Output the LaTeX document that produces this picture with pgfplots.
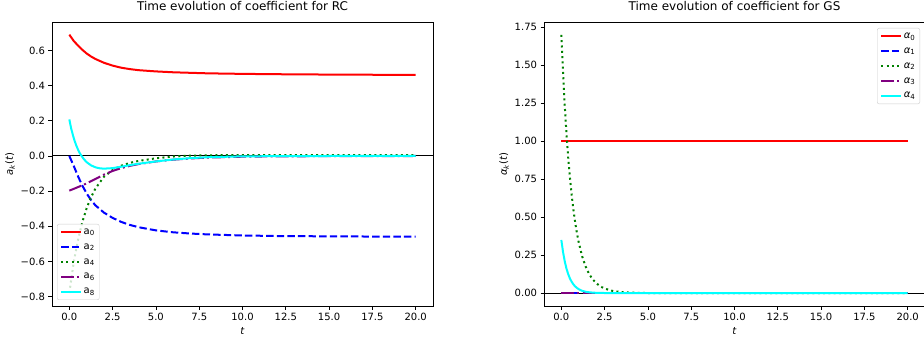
\documentclass[border=0pt]{standalone}
\usepackage{pgfplots}
\pgfplotsset{compat=1.18}
\usepackage{fontspec}
\setmainfont{DejaVu Sans}
\definecolor{mpred}{rgb}{1,0,0}
\definecolor{mpblue}{rgb}{0,0,1}
\definecolor{mpgreen}{rgb}{0,0.5,0}
\definecolor{mppurple}{rgb}{0.5,0,0.5}
\definecolor{mpcyan}{rgb}{0,1,1}
\pgfplotsset{
  myax/.style={
    scale only axis, width=381bp, height=284bp, anchor=south west,
    xmin=-1, xmax=21,
    axis line style={line width=0.8bp},
    tick align=outside, xtick pos=bottom, ytick pos=left,
    major tick length=3.5bp,
    every tick/.style={black, line width=0.8bp},
    xtick={0,2.5,5,7.5,10,12.5,15,17.5,20},
    xticklabels={0.0,2.5,5.0,7.5,10.0,12.5,15.0,17.5,20.0},
    ticklabel style={font=\fontsize{10bp}{12bp}\selectfont},
    title style={font=\fontsize{12bp}{14bp}\selectfont, at={(0.5,1)}, anchor=base, yshift=6bp},
    label style={font=\fontsize{10bp}{12bp}\selectfont},
    xlabel={\textit{t}},
    xlabel style={at={(0.5,0)}, anchor=base, yshift=-28bp, inner sep=0pt},
    legend cell align=left,
    legend style={font=\fontsize{10bp}{12bp}\selectfont, draw=black!20, rounded corners=2bp,
      fill=white, fill opacity=0.8, text opacity=1, inner sep=3bp, row sep=4.8bp,
      nodes={inner sep=1.5bp},
      /tikz/every even column/.append style={column sep=4bp}},
    legend image code/.code={\draw[#1] (0bp,0bp) -- (20bp,0bp);},
    every axis plot/.append style={line width=2bp, line join=round},
  },
  dashedmpl/.style={dash pattern=on 7.4bp off 3.2bp},
  dottedmpl/.style={dash pattern=on 2bp off 3.3bp},
  dashdotmpl/.style={dash pattern=on 12.8bp off 3.2bp on 2bp off 3.2bp},
}
\begin{document}
\begin{tikzpicture}
\useasboundingbox (0,0) rectangle (924bp,339bp);
% ---------------- Left: RC ----------------
\begin{axis}[myax, at={(52bp,33bp)},
  ymin=-0.853, ymax=0.762,
  ytick={-0.8,-0.6,-0.4,-0.2,0,0.2,0.4,0.6},
  yticklabels={−0.8,−0.6,−0.4,−0.2,0.0,0.2,0.4,0.6},
  title={Time evolution of coefficient for RC},
  ylabel={\textit{a}\textsubscript{\textit{k}}(\textit{t})},
  ylabel style={at={(0,0.5)}, anchor=south, yshift=37bp, inner sep=0pt},
  legend style={at={(0,0)}, anchor=south west, xshift=5bp, yshift=6bp},
]
\addplot[black, line width=1bp, forget plot] coordinates {(-1,0) (21,0)};
\addplot[mpred] coordinates {
(0,0.690) (0.25,0.655) (0.5,0.628) (0.75,0.604) (1.0,0.583) (1.25,0.566) (1.5,0.552)
(2.0,0.530) (2.5,0.514) (3.0,0.502) (3.5,0.494) (4.0,0.488) (5.0,0.481) (6.0,0.476)
(7.0,0.473) (8.0,0.470) (10,0.467) (12,0.465) (15,0.463) (20,0.461)};
\addlegendentry{a\textsubscript{0}}
\addplot[mpblue, dashedmpl] coordinates {
(0,0) (0.25,-0.055) (0.5,-0.115) (0.75,-0.168) (1.0,-0.213) (1.25,-0.250) (1.5,-0.280)
(2.0,-0.322) (2.5,-0.352) (3.0,-0.375) (3.5,-0.392) (4.0,-0.405) (5.0,-0.423) (6.0,-0.434)
(7.0,-0.441) (8.0,-0.446) (10,-0.452) (12,-0.455) (15,-0.457) (20,-0.459)};
\addlegendentry{a\textsubscript{2}}
\addplot[mpgreen, dottedmpl] coordinates {
(0,-0.779) (0.25,-0.607) (0.5,-0.478) (0.75,-0.376) (1.0,-0.297) (1.25,-0.235) (1.5,-0.186)
(2.0,-0.118) (2.5,-0.080) (3.0,-0.055) (3.5,-0.039) (4.0,-0.028) (5.0,-0.013) (6.0,-0.003)
(7.0,0.002) (8.0,0.004) (10,0.005) (12,0.005) (15,0.005) (20,0.005)};
\addlegendentry{a\textsubscript{4}}
\addplot[mppurple, dashdotmpl] coordinates {
(0,-0.197) (0.5,-0.177) (1.0,-0.156) (1.5,-0.131) (2.0,-0.106) (2.5,-0.085) (3.0,-0.069)
(3.5,-0.056) (4.0,-0.046) (5.0,-0.031) (6.0,-0.021) (7.0,-0.014) (8.0,-0.009) (10,-0.004)
(12,-0.002) (15,-0.001) (20,0)};
\addlegendentry{a\textsubscript{6}}
\addplot[mpcyan] coordinates {
(0,0.208) (0.1,0.160) (0.2,0.121) (0.3,0.088) (0.4,0.060) (0.5,0.037) (0.6,0.017) (0.7,0.001)
(0.85,-0.019) (1.0,-0.035) (1.25,-0.053) (1.5,-0.064) (1.75,-0.070) (2.0,-0.072) (2.5,-0.069)
(3.0,-0.061) (3.5,-0.052) (4.0,-0.044) (5.0,-0.031) (6.0,-0.020) (7.0,-0.012) (8.0,-0.007)
(10,-0.002) (12,-0.001) (15,0) (20,0)};
\addlegendentry{a\textsubscript{8}}
\end{axis}
% ---------------- Right: GS ----------------
\begin{axis}[myax, at={(544bp,33bp)},
  ymin=-0.085, ymax=1.785,
  ytick={0,0.25,0.5,0.75,1,1.25,1.5,1.75},
  yticklabels={0.00,0.25,0.50,0.75,1.00,1.25,1.50,1.75},
  title={Time evolution of coefficient for GS},
  ylabel={\textit{α}\textsubscript{\textit{k}}(\textit{t})},
  ylabel style={at={(0,0.5)}, anchor=south, yshift=35bp, inner sep=0pt},
  legend style={at={(1,1)}, anchor=north east, xshift=-5bp, yshift=-6bp},
]
\addplot[black, line width=1bp, forget plot] coordinates {(-1,0) (21,0)};
\addplot[mpred] coordinates {(0,1) (20,1)};
\addlegendentry{\textit{α}\textsubscript{0}}
\addplot[mpblue, dashedmpl] coordinates {(0,0) (20,0)};
\addlegendentry{\textit{α}\textsubscript{1}}
\addplot[mpgreen, dottedmpl] coordinates {
(0,1.700) (0.1,1.446) (0.2,1.230) (0.3,1.046) (0.4,0.889) (0.5,0.756) (0.6,0.643) (0.7,0.547)
(0.8,0.465) (0.9,0.396) (1.0,0.336) (1.2,0.243) (1.4,0.176) (1.6,0.127) (1.8,0.092) (2.0,0.067)
(2.25,0.044) (2.5,0.030) (3.0,0.013) (3.5,0.006) (4.0,0.003) (5.0,0.0005) (6,0) (20,0)};
\addlegendentry{\textit{α}\textsubscript{2}}
\addplot[mppurple, dashdotmpl] coordinates {(0,0) (20,0)};
\addlegendentry{\textit{α}\textsubscript{3}}
\addplot[mpcyan] coordinates {
(0,0.350) (0.1,0.270) (0.2,0.208) (0.3,0.160) (0.4,0.124) (0.5,0.095) (0.6,0.074) (0.7,0.057)
(0.8,0.044) (0.9,0.034) (1.0,0.026) (1.2,0.015) (1.4,0.009) (1.6,0.0055) (1.8,0.0033)
(2.0,0.0019) (2.5,0.0005) (3,0) (20,0)};
\addlegendentry{\textit{α}\textsubscript{4}}
\end{axis}
\end{tikzpicture}
\end{document}
